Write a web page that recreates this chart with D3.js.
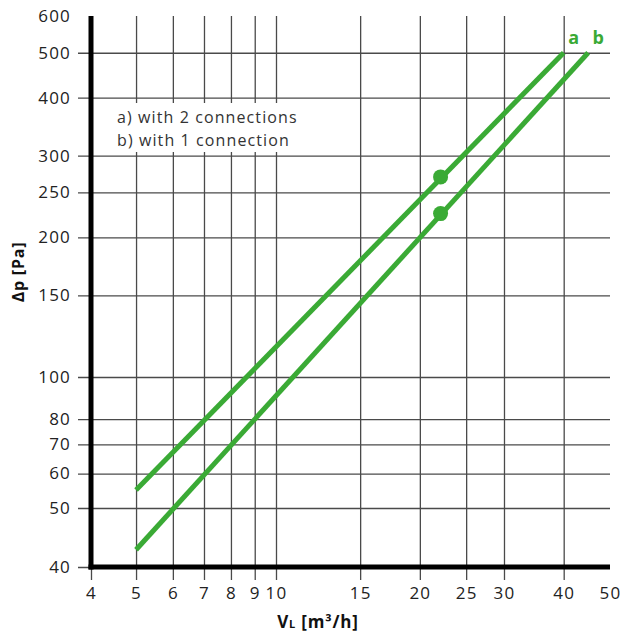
<!DOCTYPE html>
<html>
<head>
<meta charset="utf-8">
<script src="https://cdn.jsdelivr.net/npm/d3@7"></script>
<style>
  body { margin: 0; background: #fff; }
  text { font-family: "Open Sans", "DejaVu Sans", sans-serif; }
</style>
</head>
<body>
<div id="chart"></div>
<script>
// values
const xTicks = [4, 5, 6, 7, 8, 9, 10, 15, 20, 25, 30, 40, 50];
const yTicks = [40, 50, 60, 70, 80, 100, 150, 200, 250, 300, 400, 500, 600];
const seriesA = [[5, 55], [40, 500]];
const seriesB = [[5, 42.7], [45, 500]];
const markers = [[22.1, 270], [22.1, 225]];
const seriesNames = ['a', 'b'];
const legendLines = ['a) with 2 connections', 'b) with 1 connection'];

const width = 624, height = 632;
const green = '#3aaa35';

let svg = d3.select('#chart').append('svg')
  .attr('width', width)
  .attr('height', height);

// the printed grid is not quite a clean log grid, so the scales bend a little
let x = d3.scaleLog().domain([4, 10, 50]).range([91, 276, 610]);
let y = d3.scaleLog().domain([40, 50, 100, 600]).range([567, 508, 377, 16]);

let plotTop = 16, plotBottom = 567, plotLeft = 91, plotRight = 610;

// vertical grid + x labels
let gx = svg.append('g')
  .attr('transform', `translate(0,${plotBottom + 13})`)
  .call(d3.axisBottom(x)
    .tickValues(xTicks)
    .tickFormat(d3.format('d'))
    .tickSizeInner(-(plotBottom + 13 - plotTop))
    .tickSizeOuter(0)
    .tickPadding(7));
gx.select('.domain').remove();
gx.selectAll('.tick line')
  .attr('stroke', '#4a4a4a')
  .attr('stroke-width', 1.3)
  .attr('opacity', (d) => d === 50 ? 0 : 1);
gx.selectAll('.tick text')
  .attr('fill', '#222')
  .style('font-size', '17px')
  .style('letter-spacing', '1.2px');

// horizontal grid + y labels
let gy = svg.append('g')
  .attr('transform', `translate(${plotLeft - 13},0)`)
  .call(d3.axisLeft(y)
    .tickValues(yTicks)
    .tickFormat(d3.format('d'))
    .tickSizeInner(-(plotRight - plotLeft + 13))
    .tickSizeOuter(0)
    .tickPadding(7));
gy.select('.domain').remove();
gy.selectAll('.tick line')
  .attr('stroke', '#4a4a4a')
  .attr('stroke-width', 1.3)
  .attr('opacity', (d) => d === 600 ? 0 : 1);
gy.selectAll('.tick text')
  .attr('fill', '#222')
  .style('font-size', '17px')
  .style('letter-spacing', '1.2px');

// legend box covers the grid
svg.append('rect')
  .attr('x', 110).attr('y', 103)
  .attr('width', 202).attr('height', 49)
  .attr('fill', '#fff');

svg.selectAll('.legend')
  .data(legendLines)
  .enter().append('text')
  .attr('class', 'legend')
  .attr('x', 117)
  .attr('y', (d, i) => 123 + i * 23)
  .attr('fill', '#333')
  .style('font-size', '16px')
  .style('letter-spacing', '1.1px')
  .text((d) => d);

// heavy axes
svg.append('line')
  .attr('x1', plotLeft).attr('x2', plotLeft)
  .attr('y1', plotTop).attr('y2', plotBottom + 2.5)
  .attr('stroke', '#000').attr('stroke-width', 5);
svg.append('line')
  .attr('x1', plotLeft - 2.5).attr('x2', plotRight)
  .attr('y1', plotBottom).attr('y2', plotBottom)
  .attr('stroke', '#000').attr('stroke-width', 5);

// series
let line = d3.line()
  .x((d) => x(d[0]))
  .y((d) => y(d[1]));

[seriesA, seriesB].forEach((s) => {
  svg.append('path')
    .datum(s)
    .attr('d', line)
    .attr('fill', 'none')
    .attr('stroke', green)
    .attr('stroke-width', 5);
});

svg.selectAll('.marker')
  .data(markers)
  .enter().append('circle')
  .attr('class', 'marker')
  .attr('cx', (d) => x(d[0]))
  .attr('cy', (d) => y(d[1]))
  .attr('r', 7.5)
  .attr('fill', green);

// series names at the line ends
svg.selectAll('.sname')
  .data([seriesA, seriesB])
  .enter().append('text')
  .attr('class', 'sname')
  .attr('x', (d) => x(d[1][0]) + 10)
  .attr('y', (d) => y(d[1][1]) - 9)
  .attr('text-anchor', 'middle')
  .attr('fill', green)
  .style('font-size', '18px')
  .style('font-weight', 'bold')
  .text((d, i) => seriesNames[i]);

// axis titles
svg.append('text')
  .attr('transform', 'translate(24,272) rotate(-90)')
  .attr('text-anchor', 'middle')
  .attr('fill', '#111')
  .style('font-size', '16px')
  .style('font-weight', 'bold')
  .style('letter-spacing', '0.8px')
  .text('Δp [Pa]');

let xt = svg.append('text')
  .attr('x', 318)
  .attr('y', 628)
  .attr('text-anchor', 'middle')
  .attr('fill', '#111')
  .style('font-size', '17px')
  .style('font-weight', 'bold')
  .style('letter-spacing', '0.8px');
xt.append('tspan').text('V');
xt.append('tspan').style('font-size', '11px').text('L');
xt.append('tspan').text(' [m³/h]');
</script>
</body>
</html>
